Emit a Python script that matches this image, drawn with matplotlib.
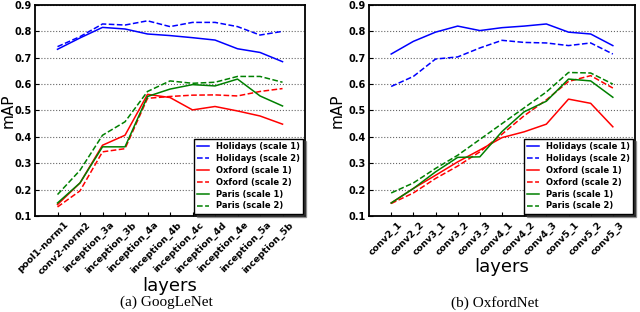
import matplotlib
matplotlib.use("Agg")
import matplotlib.pyplot as plt
import matplotlib.transforms as mtrans

# layer names
googlenet_layers = ["pool1-norm1", "conv2-norm2", "inception_3a", "inception_3b",
                    "inception_4a", "inception_4b", "inception_4c", "inception_4d",
                    "inception_4e", "inception_5a", "inception_5b"]
oxfordnet_layers = ["conv2_1", "conv2_2", "conv3_1", "conv3_2", "conv3_3",
                    "conv4_1", "conv4_2", "conv4_3", "conv5_1", "conv5_2", "conv5_3"]

# GoogLeNet mAP
g_holidays_s1 = [0.732, 0.775, 0.815, 0.809, 0.790, 0.784, 0.776, 0.767, 0.734, 0.720, 0.685]
g_holidays_s2 = [0.742, 0.780, 0.828, 0.824, 0.840, 0.818, 0.834, 0.834, 0.818, 0.786, 0.800]
g_oxford_s1 = [0.143, 0.225, 0.368, 0.406, 0.561, 0.549, 0.502, 0.515, 0.498, 0.479, 0.448]
g_oxford_s2 = [0.134, 0.195, 0.343, 0.355, 0.546, 0.553, 0.558, 0.559, 0.555, 0.572, 0.583]
g_paris_s1 = [0.149, 0.225, 0.362, 0.362, 0.553, 0.581, 0.598, 0.593, 0.619, 0.555, 0.517]
g_paris_s2 = [0.181, 0.273, 0.406, 0.457, 0.572, 0.612, 0.603, 0.607, 0.629, 0.629, 0.607]

# OxfordNet mAP
o_holidays_s1 = [0.714, 0.762, 0.797, 0.820, 0.803, 0.814, 0.820, 0.828, 0.797, 0.790, 0.746]
o_holidays_s2 = [0.591, 0.629, 0.695, 0.703, 0.737, 0.766, 0.758, 0.756, 0.746, 0.756, 0.714]
o_oxford_s1 = [0.149, 0.204, 0.254, 0.305, 0.350, 0.397, 0.419, 0.448, 0.543, 0.527, 0.438]
o_oxford_s2 = [0.147, 0.187, 0.242, 0.289, 0.343, 0.410, 0.480, 0.540, 0.610, 0.632, 0.585]
o_paris_s1 = [0.149, 0.204, 0.267, 0.322, 0.324, 0.420, 0.495, 0.535, 0.619, 0.612, 0.550]
o_paris_s2 = [0.187, 0.225, 0.280, 0.330, 0.390, 0.450, 0.510, 0.570, 0.644, 0.642, 0.600]

labels = ["Holidays (scale 1)", "Holidays (scale 2)", "Oxford (scale 1)",
          "Oxford (scale 2)", "Paris (scale 1)", "Paris (scale 2)"]
styles = [("b", "-"), ("b", "--"), ("r", "-"), ("r", "--"), ("g", "-"), ("g", "--")]


def draw(ax, layers, series, ylab_x):
    x = list(range(len(layers)))
    for vals, (c, ls), lab in zip(series, styles, labels):
        ax.plot(x, vals, color=c, ls=ls, lw=1.1, label=lab)
    ax.set_xlim(-1, len(layers))
    ax.set_ylim(0.1, 0.9)
    ax.set_yticks([0.1, 0.2, 0.3, 0.4, 0.5, 0.6, 0.7, 0.8, 0.9])
    ax.set_xticks(x)
    ax.set_xticklabels(layers, rotation=45, ha="right", fontsize=6.8,
                       fontweight="bold")
    for t in ax.get_yticklabels():
        t.set_fontsize(7)
        t.set_fontweight("bold")
    ax.yaxis.grid(True, ls=":", color="0.4", lw=0.8)
    ax.tick_params(direction="in", length=3, pad=3)
    ax.tick_params(axis="y", pad=2.5)
    for s in ax.spines.values():
        s.set_linewidth(1.3)
    ax.set_xlabel("layers", fontsize=13, labelpad=1)
    ax.set_ylabel("mAP", fontsize=11)
    ax.yaxis.set_label_coords(ylab_x, 0.5)
    leg = ax.legend(loc="lower right", fontsize=6, handlelength=1.4,
                    borderaxespad=0.25, labelspacing=0.35, fancybox=False,
                    shadow=True, framealpha=1, borderpad=0.4)
    leg.get_frame().set_edgecolor("k")
    for t in leg.get_texts():
        t.set_fontweight("bold")


fig = plt.figure(figsize=(6.4, 3.12), dpi=100)
ax1 = fig.add_axes([0.0547, 0.308, 0.4219, 0.676])
ax2 = fig.add_axes([0.5766, 0.308, 0.4156, 0.676])

draw(ax1, googlenet_layers, [g_holidays_s1, g_holidays_s2, g_oxford_s1,
                             g_oxford_s2, g_paris_s1, g_paris_s2], -0.073)
draw(ax2, oxfordnet_layers, [o_holidays_s1, o_holidays_s2, o_oxford_s1,
                             o_oxford_s2, o_paris_s1, o_paris_s2], -0.09)

fig.text(0.26, 0.03, "(a) GoogLeNet", ha="center", va="center",
         family="Liberation Serif", fontsize=11)
fig.text(0.773, 0.03, "(b) OxfordNet", ha="center", va="center",
         family="Liberation Serif", fontsize=11)

# tick labels sit a little right of their ticks, as in the old matplotlib output
fig.canvas.draw()
shift = mtrans.ScaledTranslation(0.13, 0.0, fig.dpi_scale_trans)
for ax in (ax1, ax2):
    for t in ax.get_xticklabels():
        t.set_transform(t.get_transform() + shift)

fig.savefig("out.png", dpi=100)
